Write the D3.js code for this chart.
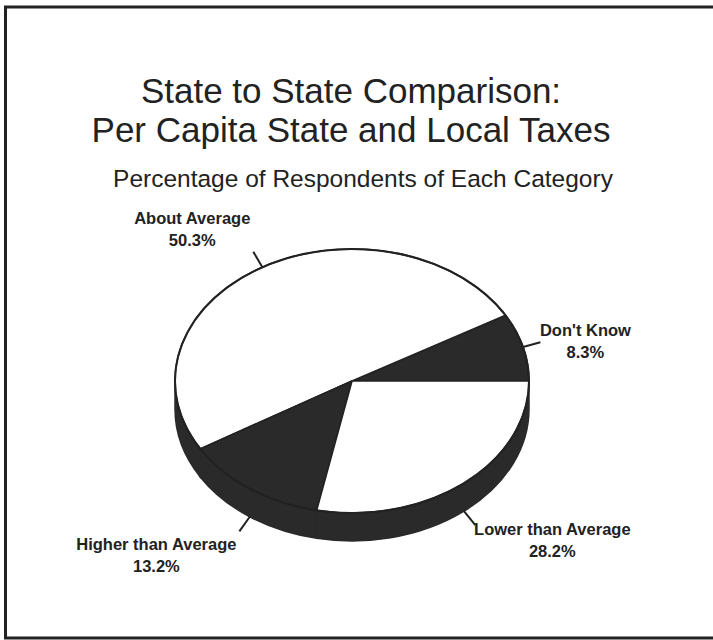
<!DOCTYPE html>
<html>
<head>
<meta charset="utf-8">
<script src="https://cdn.jsdelivr.net/npm/d3@7"></script>
<style>
  html, body { margin: 0; padding: 0; background: #fff; }
  svg { display: block; }
  text { font-family: "Liberation Sans", Arial, Helvetica, sans-serif; fill: #222; }
</style>
</head>
<body>
<svg id="chart" width="713" height="640"></svg>
<script>
// Survey categories and their shares (percent)
const categories = ["Don't Know", "About Average", "Higher than Average", "Lower than Average"];
const values = [8.3, 50.3, 13.2, 28.2];
const sliceFills = ["#2a2a2a", "#ffffff", "#2a2a2a", "#ffffff"];
// label offsets from the end of each leader line: [dx, dy]
const labelOffsets = [[45, -6], [-61, -28], [-83, 19], [77, 10]];

const titleLines = ["State to State Comparison:", "Per Capita State and Local Taxes"];
const subtitle = "Percentage of Respondents of Each Category";

const W = 713, H = 640;
const svg = d3.select("#chart");
const ink = "#222";
const dark = "#2a2a2a";

// outer frame (open on the right side)
svg.append("path")
  .attr("d", `M${W},7 H5.5 V638 H${W}`)
  .attr("fill", "none").attr("stroke", ink).attr("stroke-width", 3);

// titles
svg.append("text").attr("x", 351).attr("y", 103).attr("text-anchor", "middle")
  .attr("font-size", 35).text(titleLines[0]);
svg.append("text").attr("x", 351).attr("y", 142).attr("text-anchor", "middle")
  .attr("font-size", 35).text(titleLines[1]);
svg.append("text").attr("x", 363).attr("y", 187).attr("text-anchor", "middle")
  .attr("font-size", 24.5).text(subtitle);

// tilted pie geometry
const cx = 352, cy = 381, rx = 177, ry = 132, depth = 28;
const pt = (a, off = 0) => [cx + rx * Math.sin(a), cy - ry * Math.cos(a) + off];

// start at 3 o'clock and run counter-clockwise
const arcs = d3.pie().sort(null).value(d => d)
  .startAngle(Math.PI / 2).endAngle(Math.PI / 2 - 2 * Math.PI)(values);

const g = svg.append("g");

// side wall: visible only on the front half (angles between -3π/2 and -π/2)
const frontLo = -3 * Math.PI / 2, frontHi = -Math.PI / 2;
arcs.forEach((d, i) => {
  const a0 = Math.min(d.startAngle, frontHi);
  const a1 = Math.max(d.endAngle, frontLo);
  if (a0 <= a1) return;
  const large = (a0 - a1) > Math.PI ? 1 : 0;
  const p0 = pt(a0), p1 = pt(a1), q1 = pt(a1, depth), q0 = pt(a0, depth);
  g.append("path")
    .attr("d", `M${p0} A${rx},${ry} 0 ${large} 0 ${p1} L${q1} A${rx},${ry} 0 ${large} 1 ${q0} Z`)
    .attr("fill", dark).attr("stroke", dark).attr("stroke-width", 1.5);
});

// top faces
arcs.forEach((d, i) => {
  const p0 = pt(d.startAngle), p1 = pt(d.endAngle);
  const large = (d.startAngle - d.endAngle) > Math.PI ? 1 : 0;
  g.append("path")
    .attr("d", `M${cx},${cy} L${p0} A${rx},${ry} 0 ${large} 0 ${p1} Z`)
    .attr("fill", sliceFills[i]).attr("stroke", ink).attr("stroke-width", 1.6)
    .attr("stroke-linejoin", "round");
});

// rim outline of the top face
g.append("ellipse").attr("cx", cx).attr("cy", cy).attr("rx", rx).attr("ry", ry)
  .attr("fill", "none").attr("stroke", ink).attr("stroke-width", 2);

// leader lines and labels
const lead = 18;
arcs.forEach((d, i) => {
  const mid = (d.startAngle + d.endAngle) / 2;
  const front = Math.cos(mid) < 0;
  const off = front ? depth : 0;
  const x0 = cx + rx * Math.sin(mid), y0 = cy - ry * Math.cos(mid) + off;
  const x1 = cx + (rx + lead) * Math.sin(mid), y1 = cy - (ry + lead) * Math.cos(mid) + off;
  svg.append("line").attr("x1", x0).attr("y1", y0).attr("x2", x1).attr("y2", y1)
    .attr("stroke", ink).attr("stroke-width", 2);
  const lx = x1 + labelOffsets[i][0], ly = y1 + labelOffsets[i][1];
  const t = svg.append("text").attr("text-anchor", "middle")
    .attr("font-size", 16.5).attr("font-weight", "bold");
  t.append("tspan").attr("x", lx).attr("y", ly).text(categories[i]);
  t.append("tspan").attr("x", lx).attr("y", ly + 22).text(values[i].toFixed(1) + "%");
});
</script>
</body>
</html>
